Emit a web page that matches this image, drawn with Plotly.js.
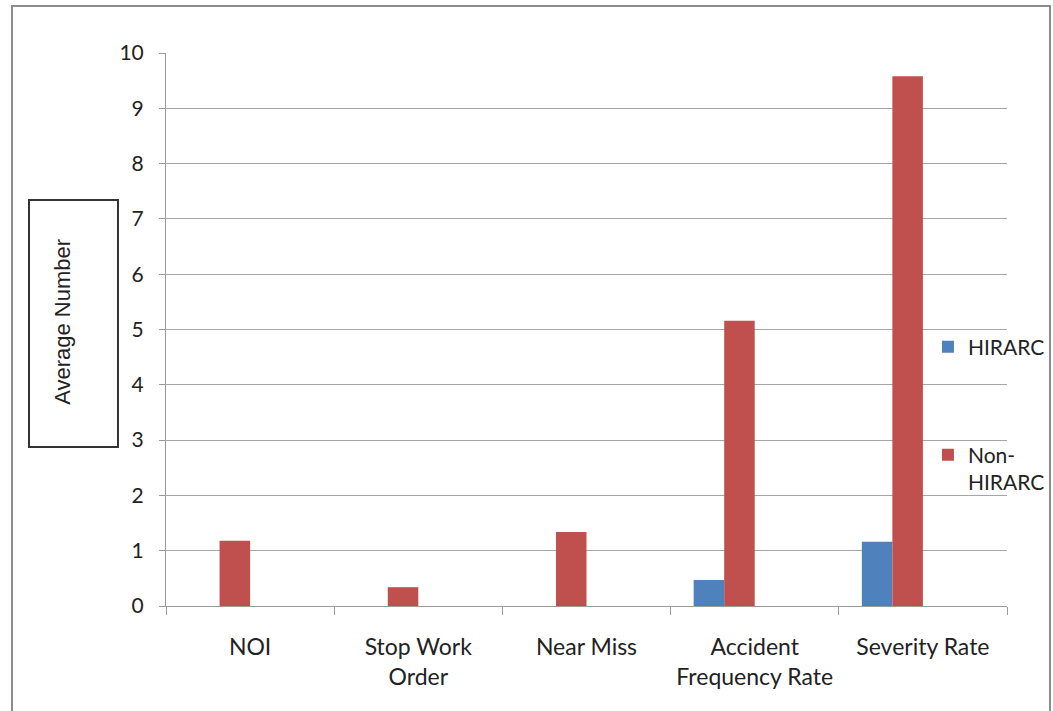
<!DOCTYPE html>
<html>
<head>
<meta charset="utf-8">
<script src="https://cdn.plot.ly/plotly-3.0.1.min.js"></script>
<style>
html,body{margin:0;padding:0;background:#fff;}
#chart{width:1053px;height:711px;}
</style>
</head>
<body>
<div id="chart"></div>
<script>
const categories = ["NOI", "Stop Work<br>Order", "Near Miss", "Accident<br>Frequency Rate", "Severity Rate"];
const hirarc = [0, 0, 0, 0.47, 1.16];
const nonHirarc = [1.18, 0.34, 1.34, 5.16, 9.58];
const yTicks = [0, 1, 2, 3, 4, 5, 6, 7, 8, 9, 10];

const FONT = "Lato, 'Open Sans', sans-serif";
const TXT = "#222222";
const BAR_W = 0.1815;

const traces = [
  {type: "bar", name: "HIRARC", x: categories, y: hirarc,
   marker: {color: "#4F81BD"}, width: BAR_W, offset: -2 * BAR_W,
   legend: "legend", hoverinfo: "y"},
  {type: "bar", name: "Non-<br>HIRARC", x: categories, y: nonHirarc,
   marker: {color: "#C0504D"}, width: BAR_W, offset: -BAR_W,
   legend: "legend2", hoverinfo: "y"}
];

const layout = {
  width: 1053, height: 711,
  margin: {l: 166, r: 46, t: 53, b: 105, autoexpand: false},
  paper_bgcolor: "#ffffff", plot_bgcolor: "#ffffff",
  font: {family: FONT, color: TXT, size: 21},
  showlegend: true,
  xaxis: {
    type: "category",
    tickson: "boundaries",
    ticks: "outside", ticklen: 8, tickcolor: "#9a9a9a", tickwidth: 1,
    showline: true, linecolor: "#9a9a9a", linewidth: 1,
    showgrid: false, zeroline: false,
    tickfont: {family: FONT, size: 23, color: TXT},
    ticklabelstandoff: 20,
    automargin: false,
    fixedrange: true
  },
  yaxis: {
    range: [0, 10],
    tickvals: yTicks, ticktext: yTicks.map(String),
    ticks: "outside", ticklen: 6, tickcolor: "#9a9a9a",
    showline: true, linecolor: "#9a9a9a", linewidth: 1,
    showgrid: true, gridcolor: "#a6a6a6", gridwidth: 1,
    zeroline: false,
    tickfont: {family: FONT, size: 21, color: TXT},
    ticklabelstandoff: 11,
    automargin: false,
    fixedrange: true
  },
  legend: {
    x: 0.906, xanchor: "left", y: 0.468, yanchor: "middle",
    bgcolor: "rgba(0,0,0,0)", borderwidth: 0,
    font: {family: FONT, size: 21, color: TXT},
    itemwidth: 30
  },
  legend2: {
    x: 0.906, xanchor: "left", y: 0.31, yanchor: "top",
    bgcolor: "rgba(0,0,0,0)", borderwidth: 0,
    font: {family: FONT, size: 21, color: TXT},
    valign: "top", itemwidth: 30
  },
  shapes: [
    {type: "rect", xref: "paper", yref: "paper",
     x0: -0.1831, x1: 1.0511, y0: -0.25, y1: 1.085,
     line: {color: "#8c8c8c", width: 2}, fillcolor: "rgba(0,0,0,0)", layer: "below"},
    {type: "rect", xref: "paper", yref: "paper",
     x0: -0.1629, x1: -0.0571, y0: 0.2875, y1: 0.7342,
     line: {color: "#333333", width: 2}, fillcolor: "rgba(0,0,0,0)"}
  ],
  annotations: [
    {text: "Average Number", xref: "paper", yref: "paper",
     x: -0.123, y: 0.513, xanchor: "center", yanchor: "middle",
     textangle: -90, showarrow: false,
     font: {family: "'Liberation Sans', Arial, sans-serif", size: 22, color: TXT}}
  ]
};

Plotly.newPlot("chart", traces, layout, {displayModeBar: false, staticPlot: true});
</script>
</body>
</html>
